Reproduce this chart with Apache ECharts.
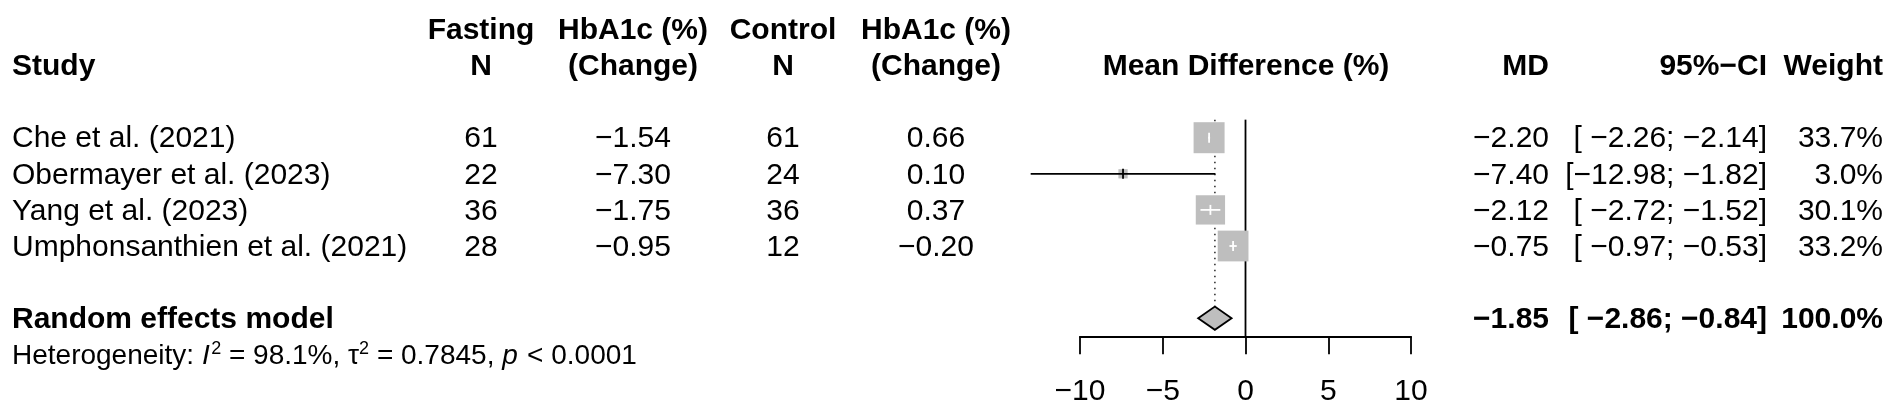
<!DOCTYPE html>
<html><head><meta charset="utf-8">
<script src="https://cdn.jsdelivr.net/npm/echarts@6/dist/echarts.min.js"></script>
<style>html,body{margin:0;padding:0;background:#fff;} #c{width:1902px;height:413px;}</style>
</head><body><div id="c"></div>
<script>
// ---------------- data ----------------
const studies = ['Che et al. (2021)', 'Obermayer et al. (2023)', 'Yang et al. (2023)', 'Umphonsanthien et al. (2021)'];
const fastingN = [61, 22, 36, 28];
const fastingChange = [-1.54, -7.30, -1.75, -0.95];
const controlN = [61, 24, 36, 12];
const controlChange = [0.66, 0.10, 0.37, -0.20];
const md = [-2.20, -7.40, -2.12, -0.75];
const ciLower = [-2.26, -12.98, -2.72, -0.97];
const ciUpper = [-2.14, -1.82, -1.52, -0.53];
const weights = [33.7, 3.0, 30.1, 33.2];
const pooledLabel = 'Random effects model';
const pooledMD = -1.85;
const pooledLower = -2.86;
const pooledUpper = -0.84;
const pooledWeight = 100.0;
const hetI2 = 98.1;
const hetTau2 = 0.7845;
const hetP = '< 0.0001';
const xTicks = [-10, -5, 0, 5, 10];
const headerRow1 = ['Fasting', 'HbA1c (%)', 'Control', 'HbA1c (%)'];
const headerRow2 = ['Study', 'N', '(Change)', 'N', '(Change)', 'Mean Difference (%)', 'MD', '95%\u2212CI', 'Weight'];

// ---------------- helpers ----------------
const FONT = '"Liberation Sans", Arial, Helvetica, sans-serif';
const MINUS = '\u2212';
function fmt(v, d) { const s = Math.abs(v).toFixed(d); return (v < 0 && Number(s) !== 0 ? MINUS : '') + s; }
function pad(s, n) { while (s.length < n) s = ' ' + s; return s; }
function ciText(lo, hi) { return '[' + pad(fmt(lo, 2), 6) + '; ' + pad(fmt(hi, 2), 5) + ']'; }
const measureCtx = document.createElement('canvas').getContext('2d');
function textWidth(t, font) { measureCtx.font = font; return measureCtx.measureText(t).width; }

// column anchors (layout)
const COL = { study: 12, fastN: 481, fastCh: 633, ctrlN: 783, ctrlCh: 936, mdHead: 1246, md: 1549, ci: 1767, wt: 1883 };
const ROW_H1 = -3, ROW_H2 = -2, ROW_POOLED = 5, ROW_HET = 6;

const cells = [];
function cell(x, row, text, align, bold, extra) {
  cells.push(Object.assign({ x, row, text, align, bold: !!bold }, extra || {}));
}
// headers
cell(COL.fastN, ROW_H1, headerRow1[0], 'center', true);
cell(COL.fastCh, ROW_H1, headerRow1[1], 'center', true);
cell(COL.ctrlN, ROW_H1, headerRow1[2], 'center', true);
cell(COL.ctrlCh, ROW_H1, headerRow1[3], 'center', true);
cell(COL.study, ROW_H2, headerRow2[0], 'left', true);
cell(COL.fastN, ROW_H2, headerRow2[1], 'center', true);
cell(COL.fastCh, ROW_H2, headerRow2[2], 'center', true);
cell(COL.ctrlN, ROW_H2, headerRow2[3], 'center', true);
cell(COL.ctrlCh, ROW_H2, headerRow2[4], 'center', true);
cell(COL.mdHead, ROW_H2, headerRow2[5], 'center', true);
cell(COL.md, ROW_H2, headerRow2[6], 'right', true);
cell(COL.ci, ROW_H2, headerRow2[7], 'right', true);
cell(COL.wt, ROW_H2, headerRow2[8], 'right', true);
// studies
studies.forEach((s, i) => {
  cell(COL.study, i, s, 'left');
  cell(COL.fastN, i, String(fastingN[i]), 'center');
  cell(COL.fastCh, i, fmt(fastingChange[i], 2), 'center');
  cell(COL.ctrlN, i, String(controlN[i]), 'center');
  cell(COL.ctrlCh, i, fmt(controlChange[i], 2), 'center');
  cell(COL.md, i, fmt(md[i], 2), 'right');
  cell(COL.ci, i, ciText(ciLower[i], ciUpper[i]), 'right');
  cell(COL.wt, i, weights[i].toFixed(1) + '%', 'right');
});
// pooled
cell(COL.study, ROW_POOLED, pooledLabel, 'left', true);
cell(COL.md, ROW_POOLED, fmt(pooledMD, 2), 'right', true);
cell(COL.ci, ROW_POOLED, ciText(pooledLower, pooledUpper), 'right', true);
cell(COL.wt, ROW_POOLED, pooledWeight.toFixed(1) + '%', 'right', true);
// heterogeneity (segments: normal / italic / superscript)
cell(COL.study, ROW_HET, '', 'left', false, {
  segments: [
    { t: 'Heterogeneity: ' }, { t: 'I', k: 'i' }, { t: '2', k: 's' },
    { t: ' = ' + hetI2.toFixed(1) + '%, \u03c4' }, { t: '2', k: 's' },
    { t: ' = ' + hetTau2.toFixed(4) + ', ' }, { t: 'p', k: 'i' }, { t: ' ' + hetP }
  ]
});

const wMax = Math.max.apply(null, weights);
const SQ = 31;        // square side for the largest weight (px)
const DIAMOND_H = 11.6;
const LW = 1.8;
const HET_FONT = { n: '28px ' + FONT, i: 'italic 28px ' + FONT, s: '18px ' + FONT };

const chart = echarts.init(document.getElementById('c'), null, { renderer: 'canvas' });
const option = {
  animation: false,
  backgroundColor: '#ffffff',
  grid: [
    { left: 1080, width: 331, top: 119.65, height: 216.6 },
    { left: 0, width: 1902, top: 11.35, height: 361 }
  ],
  xAxis: [
    {
      gridIndex: 0, type: 'value', min: xTicks[0], max: xTicks[xTicks.length - 1], interval: 5,
      position: 'bottom',
      axisLine: { show: true, onZero: false, lineStyle: { color: '#000', width: LW } },
      axisTick: { show: true, length: 18, lineStyle: { color: '#000', width: LW } },
      axisLabel: { margin: 40, fontSize: 30, fontFamily: FONT, color: '#000', formatter: v => fmt(v, 0) },
      splitLine: { show: false }
    },
    { gridIndex: 1, type: 'value', min: 0, max: 1902, show: false }
  ],
  yAxis: [
    { gridIndex: 0, type: 'value', min: -0.5, max: 5.5, inverse: true, show: false, splitLine: { show: false } },
    { gridIndex: 1, type: 'value', min: -3.5, max: 6.5, inverse: true, show: false, splitLine: { show: false } }
  ],
  series: [
    // reference lines (zero line solid, pooled estimate dotted)
    {
      type: 'custom', xAxisIndex: 0, yAxisIndex: 0, silent: true,
      data: [[0, -0.5, 5.5, 0], [pooledMD, -0.5, ROW_POOLED, 1]],
      encode: { x: 0, y: 1 },
      renderItem: (params, api) => {
        const x = api.value(0), y1 = api.value(1), y2 = api.value(2), dotted = api.value(3) === 1;
        const p1 = api.coord([x, y1]), p2 = api.coord([x, y2]);
        return {
          type: 'line',
          shape: { x1: p1[0], y1: p1[1], x2: p2[0], y2: dotted ? p2[1] - DIAMOND_H : p2[1] },
          style: { stroke: dotted ? '#333' : '#000', lineWidth: dotted ? 1.6 : LW, lineDash: dotted ? [1.6, 4.4] : null }
        };
      }
    },
    // studies
    {
      type: 'custom', xAxisIndex: 0, yAxisIndex: 0, silent: true,
      data: md.map((m, i) => [m, i, ciLower[i], ciUpper[i], weights[i]]),
      encode: { x: 0, y: 1 },
      renderItem: (params, api) => {
        const m = api.value(0), r = api.value(1), lo = api.value(2), hi = api.value(3), w = api.value(4);
        const c = api.coord([m, r]);
        const pl = api.coord([lo, r])[0], ph = api.coord([hi, r])[0];
        const s = SQ * Math.sqrt(w / wMax);
        const inside = pl >= c[0] - s / 2 && ph <= c[0] + s / 2;
        const col = inside ? '#ffffff' : '#000000';
        return {
          type: 'group',
          children: [
            { type: 'rect', shape: { x: c[0] - s / 2, y: c[1] - s / 2, width: s, height: s }, style: { fill: '#bebebe' } },
            { type: 'line', shape: { x1: pl, y1: c[1], x2: ph, y2: c[1] }, style: { stroke: col, lineWidth: LW } },
            { type: 'line', shape: { x1: c[0], y1: c[1] - 5, x2: c[0], y2: c[1] + 5 }, style: { stroke: col, lineWidth: LW } }
          ]
        };
      }
    },
    // pooled diamond
    {
      type: 'custom', xAxisIndex: 0, yAxisIndex: 0, silent: true,
      data: [[pooledMD, ROW_POOLED, pooledLower, pooledUpper]],
      encode: { x: 0, y: 1 },
      renderItem: (params, api) => {
        const c = api.coord([api.value(0), api.value(1)]);
        const pl = api.coord([api.value(2), api.value(1)])[0];
        const ph = api.coord([api.value(3), api.value(1)])[0];
        return {
          type: 'polygon',
          shape: { points: [[pl, c[1]], [c[0], c[1] - DIAMOND_H], [ph, c[1]], [c[0], c[1] + DIAMOND_H]] },
          style: { fill: '#bebebe', stroke: '#000', lineWidth: LW, lineJoin: 'miter' }
        };
      }
    },
    // table text
    {
      type: 'custom', xAxisIndex: 1, yAxisIndex: 1, silent: true,
      data: cells.map((c, i) => [c.x, c.row, i]),
      encode: { x: 0, y: 1 },
      renderItem: (params, api) => {
        const c = cells[api.value(2)];
        const p = api.coord([api.value(0), api.value(1)]);
        const y = p[1] + 1.5;
        if (c.segments) {
          let x = p[0];
          const children = c.segments.map(seg => {
            const k = seg.k || 'n';
            const font = HET_FONT[k];
            const el = {
              type: 'text',
              style: { text: seg.t, x: x, y: k === 's' ? y - 7 : y, align: 'left', verticalAlign: 'middle', fill: '#000', font: font }
            };
            x += textWidth(seg.t, font) + (k === 'i' ? 1.5 : 0);
            return el;
          });
          return { type: 'group', children };
        }
        return {
          type: 'text',
          style: {
            text: c.text, x: p[0], y: y, align: c.align, verticalAlign: 'middle',
            fill: '#000', font: (c.bold ? 'bold ' : '') + '30px ' + FONT
          }
        };
      }
    }
  ]
};
chart.setOption(option);
</script>
</body></html>
